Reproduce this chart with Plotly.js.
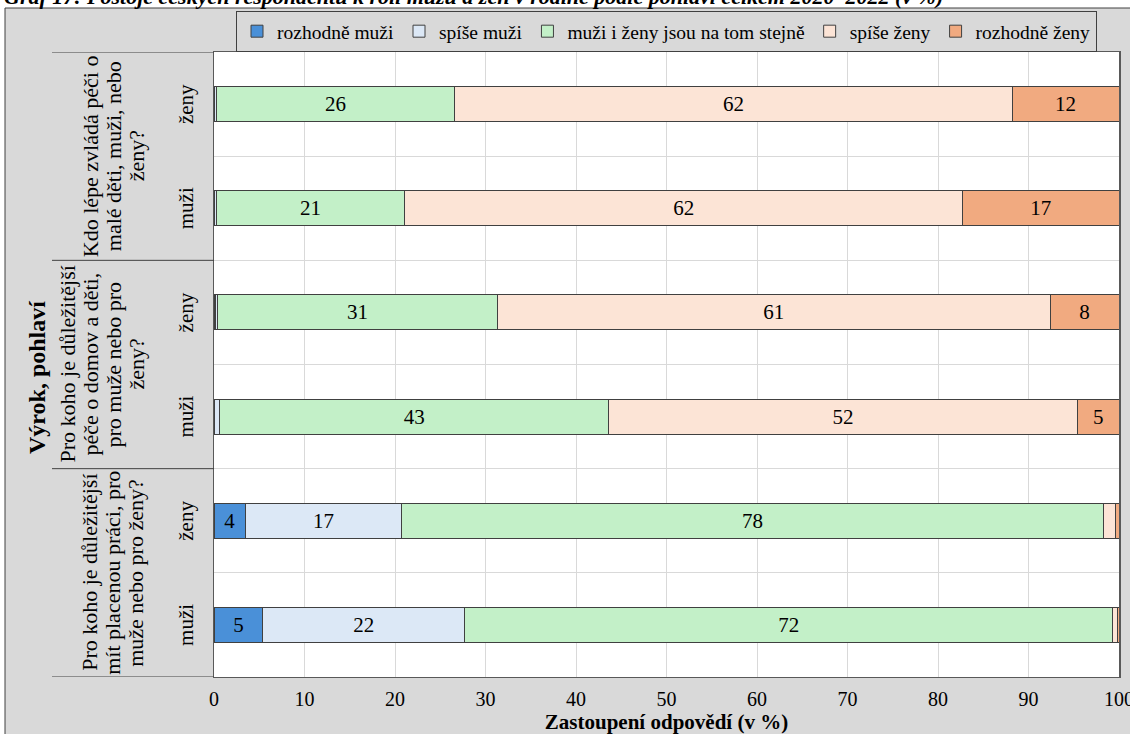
<!DOCTYPE html>
<html><head><meta charset="utf-8">
<script src="https://cdn.plot.ly/plotly-3.0.1.min.js"></script>
<style>html,body{margin:0;padding:0;background:#fff}#chart{width:1130px;height:734px}</style>
</head><body><div id="chart"></div>
<script>
const chartTitle = "Graf 17: Postoje českých respondentů k roli mužů a žen v rodině podle pohlaví celkem 2020–2022 (v %)";
const questions = [
  "Kdo lépe zvládá péči o malé děti, muži, nebo ženy?",
  "Pro koho je důležitější péče o domov a děti, pro muže nebo pro ženy?",
  "Pro koho je důležitější mít placenou práci, pro muže nebo pro ženy?"
];
const questionLines = [
  ["Kdo lépe zvládá péči o", "malé děti, muži, nebo", "ženy?"],
  ["Pro koho je důležitější", "péče o domov a děti,", "pro muže nebo pro", "ženy?"],
  ["Pro koho je důležitější", "mít placenou práci, pro", "muže nebo pro ženy?"]
];
const genders = ["ženy", "muži"];
const seriesNames = ["rozhodně muži", "spíše muži", "muži i ženy jsou na tom stejně", "spíše ženy", "rozhodně ženy"];
// order: Q1 ženy, Q1 muži, Q2 ženy, Q2 muži, Q3 ženy, Q3 muži
const rozhodneMuzi = [0.05, 0.05, 0.2, 0.05, 3.5, 5.4];
const spiseMuzi    = [0.2, 0.2, 0.2, 0.6, 17.2, 22.3];
const stejne       = [26.35, 20.85, 30.9, 42.95, 77.6, 71.6];
const spiseZeny    = [61.6, 61.6, 61.1, 51.8, 1.3, 0.5];
const rozhodneZeny = [11.8, 17.3, 7.6, 4.6, 0.4, 0.2];
const xTitle = "Zastoupení odpovědí (v %)";
const yTitle = "Výrok, pohlaví";

const seriesValues = [rozhodneMuzi, spiseMuzi, stejne, spiseZeny, rozhodneZeny];
const colors = ["#4a90d8", "#dce8f6", "#c3f0c8", "#fce4d6", "#f1aa80"];
const FONT = "Liberation Serif, Times New Roman, serif";

const cats = [];
questions.forEach(q => genders.forEach(g => cats.push(q + " | " + g)));

const traces = seriesValues.map((vals, i) => ({
  type: "bar",
  orientation: "h",
  name: seriesNames[i],
  y: cats,
  x: vals,
  text: vals.map(v => v >= 3 ? String(Math.round(v)) : ""),
  textposition: "inside",
  insidetextanchor: "middle",
  textangle: 0,
  constraintext: "none",
  textfont: {family: FONT, size: 21, color: "#000"},
  marker: {color: colors[i], line: {color: "#404040", width: 1}},
  hoverinfo: "x+name"
}));

// pixel helpers for layout placement
const L = 214, R = 1119, T = 52, B = 677;
const px2x = p => (p - L) / (R - L);
const py2y = p => 1 - (p - T) / (B - T);

const annotations = [];
cats.forEach((c, i) => annotations.push({
  xref: "paper", yref: "y", x: px2x(186), y: i, text: genders[i % 2],
  showarrow: false, textangle: -90, xanchor: "center", yanchor: "middle",
  font: {family: FONT, size: 21, color: "#000"}
}));
const lineGap = 23;
questionLines.forEach((lines, k) => {
  const lastX = 136;
  const n = lines.length;
  lines.forEach((ln, j) => annotations.push({
    xref: "paper", yref: "y", x: px2x(lastX - (n - 1 - j) * lineGap), y: 2 * k + 0.5, text: ln,
    showarrow: false, textangle: -90, xanchor: "center", yanchor: "middle",
    font: {family: FONT, size: 22, color: "#000"}
  }));
});
annotations.push({
  xref: "paper", yref: "paper", x: px2x(37), y: py2y(378), text: "<b>" + yTitle + "</b>",
  showarrow: false, textangle: -90, xanchor: "center", yanchor: "middle",
  font: {family: FONT, size: 24, color: "#000"}
});
annotations.push({
  xref: "paper", yref: "paper", x: px2x(2), y: py2y(-4), text: "<b><i>" + chartTitle + "</i></b>",
  showarrow: false, xanchor: "left", yanchor: "middle",
  font: {family: FONT, size: 22, color: "#000"}
});

const shapes = [
  {type: "rect", xref: "paper", yref: "paper", x0: px2x(-20), x1: px2x(1150), y0: py2y(8), y1: py2y(-30), fillcolor: "#fff", line: {width: 0}, layer: "below"},
  {type: "rect", xref: "paper", yref: "paper", x0: px2x(-20), x1: px2x(5), y0: py2y(760), y1: py2y(-30), fillcolor: "#fff", line: {width: 0}, layer: "below"},
  {type: "line", xref: "paper", yref: "paper", x0: px2x(5), x1: px2x(1150), y0: py2y(8), y1: py2y(8), line: {color: "#404040", width: 1}},
  {type: "line", xref: "paper", yref: "paper", x0: px2x(5), x1: px2x(5), y0: py2y(8), y1: py2y(760), line: {color: "#404040", width: 1}}
];
[-0.5, 1.5, 3.5, 5.5].forEach(b => shapes.push({
  type: "line", xref: "paper", yref: "y", x0: px2x(52), x1: 0, y0: b, y1: b,
  line: {color: "#404040", width: 1}
}));

const layout = {
  width: 1130, height: 734,
  margin: {l: L, r: 1130 - R, t: T, b: 734 - B},
  paper_bgcolor: "#d9d9d9",
  plot_bgcolor: "#ffffff",
  barmode: "stack",
  bargap: 0.664,
  showlegend: true,
  legend: {
    orientation: "h", x: 0.5, xanchor: "center", y: py2y(11), yanchor: "top",
    bgcolor: "#d9d9d9", bordercolor: "#404040", borderwidth: 1,
    font: {family: FONT, size: 19.5, color: "#000"}, traceorder: "normal",
    itemwidth: 30
  },
  xaxis: {
    range: [0, 100], tick0: 0, dtick: 10, showgrid: true, gridcolor: "#d9d9d9", zeroline: false,
    showline: true, mirror: true, linecolor: "#595959", linewidth: 1,
    ticks: "outside", ticklen: 4, tickcolor: "rgba(0,0,0,0)", ticklabeloverflow: "allow",
    tickfont: {family: FONT, size: 20, color: "#000"},
    title: {text: "<b>" + xTitle + "</b>", font: {family: FONT, size: 21, color: "#000"}, standoff: 6},
    fixedrange: true
  },
  yaxis: {
    type: "category", categoryorder: "array", categoryarray: cats, range: [5.5, -0.5],
    showticklabels: false, tickson: "boundaries", ticks: "", showgrid: true, gridcolor: "#d9d9d9",
    showline: true, mirror: true, linecolor: "#595959", linewidth: 1.5, zeroline: false,
    fixedrange: true
  },
  annotations: annotations,
  shapes: shapes
};

Plotly.newPlot("chart", traces, layout, {displayModeBar: false, staticPlot: true});
</script>
</body></html>
